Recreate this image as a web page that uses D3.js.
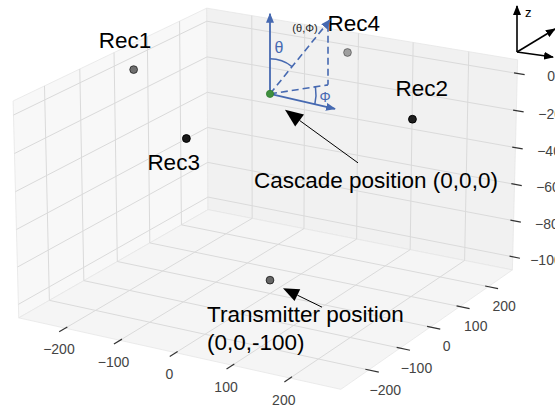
<!DOCTYPE html>
<html><head><meta charset="utf-8">
<script src="https://cdn.jsdelivr.net/npm/d3@7"></script>
<style>
body{margin:0;background:#fff}
svg{display:block}
text{font-family:"Liberation Sans",Arial,sans-serif}
</style>
</head><body>
<svg id="c" width="555" height="405"></svg>
<script>
// ---------------- data ----------------
const xTicks=[-200,-100,0,100,200];
const yTicks=[-200,-100,0,100,200];
const zTicks=[-100,-80,-60,-40,-20,0];
const xLim=[-275,275], yLim=[-275,275], zLim=[-105,5];
const recNames=["Rec1","Rec2","Rec3","Rec4"];
const recX=[-250,250,0,0];
const recY=[0,0,-250,250];
const recZ=[0,0,0,0];
const cascadePos=[0,0,0];
const cascadeLabel="Cascade position (0,0,0)";
const transPos=[0,0,-100];
const transLabel=["Transmitter position","(0,0,-100)"];

// ---------------- projection ----------------
const W=555,H=405;
const pad=l=>{const d=(l[1]-l[0])/48;return [l[0]-d,l[1]+d];};
const KZ=0.62;
const sx=d3.scaleLinear().domain(pad(xLim)).range([-1,1]);
const sy=d3.scaleLinear().domain(pad(yLim)).range([-1,1]);
const sz=d3.scaleLinear().domain(pad(zLim)).range([-KZ,KZ]);
const AZ=-60*Math.PI/180, EL=19.5*Math.PI/180, DIST=19, S=182.6, CX=270, CY=187.9;
const Rv=[-Math.sin(AZ),Math.cos(AZ),0];
const Uv=[-Math.sin(EL)*Math.cos(AZ),-Math.sin(EL)*Math.sin(AZ),Math.cos(EL)];
const Wv=[Math.cos(EL)*Math.cos(AZ),Math.cos(EL)*Math.sin(AZ),Math.sin(EL)];
const dot=(v,X,Y,Z)=>v[0]*X+v[1]*Y+v[2]*Z;
function projN(X,Y,Z){const f=DIST/(DIST-dot(Wv,X,Y,Z));return [CX+S*dot(Rv,X,Y,Z)*f, CY-S*dot(Uv,X,Y,Z)*f];}
const P=(x,y,z)=>projN(sx(x),sy(y),sz(z));
const depth=(x,y,z)=>dot(Wv,sx(x),sy(y),sz(z));

const svg=d3.select("#c");
const line=d3.line();
const [x0,x1]=sx.domain(),[y0,y1]=sy.domain(),[z0,z1]=sz.domain();

// panes
const panes=[
 {c:"#f8f8f8",pts:[[x0,y0,z0],[x0,y1,z0],[x0,y1,z1],[x0,y0,z1]]},
 {c:"#f1f1f1",pts:[[x0,y1,z0],[x1,y1,z0],[x1,y1,z1],[x0,y1,z1]]},
 {c:"#f5f5f5",pts:[[x0,y0,z0],[x1,y0,z0],[x1,y1,z0],[x0,y1,z0]]}
];
svg.append("g").selectAll("path").data(panes).join("path")
 .attr("d",d=>line(d.pts.map(p=>P(...p)))+"Z")
 .attr("fill",d=>d.c).attr("stroke","#e6e6e6").attr("stroke-width",0.8);

// grid
const grid=svg.append("g").attr("fill","none").attr("stroke","#dadada").attr("stroke-width",1);
xTicks.forEach(t=>grid.append("path").attr("d",line([P(t,y0,z0),P(t,y1,z0),P(t,y1,z1)])));
yTicks.forEach(t=>grid.append("path").attr("d",line([P(x1,t,z0),P(x0,t,z0),P(x0,t,z1)])));
zTicks.forEach(t=>grid.append("path").attr("d",line([P(x0,y0,t),P(x0,y1,t),P(x1,y1,t)])));

// ticks + labels
const fmt=d3.format("d");
const ax=svg.append("g");
const tickStyle=s=>s.attr("stroke","#333").attr("stroke-width",1.2);
const lab=(p,t)=>ax.append("text").attr("x",p[0]).attr("y",p[1]).attr("text-anchor","middle")
  .attr("dominant-baseline","central").attr("font-size",14).attr("fill","#444").text(t);
xTicks.forEach(t=>{
  const X=sx(t);
  tickStyle(ax.append("path").attr("d",line([projN(X,-1+0.02,-KZ),projN(X,-1-0.06,-KZ)])));
  lab(projN(X,-1.066,-KZ-0.099),fmt(t));
});
yTicks.forEach(t=>{
  const Y=sy(t);
  tickStyle(ax.append("path").attr("d",line([projN(1-0.02,Y,-KZ),projN(1+0.06,Y,-KZ)])));
  lab(projN(1.10,Y,-KZ-0.093),fmt(t));
});
zTicks.forEach(t=>{
  const Z=sz(t);
  tickStyle(ax.append("path").attr("d",line([projN(1-0.02,1,Z),projN(1+0.045,1,Z)])));
  lab(projN(1.184,1.048,Z),fmt(t));
});

// points with depth shading
const pts=recNames.map((n,i)=>({n,x:recX[i],y:recY[i],z:recZ[i]}));
pts.push({n:"T",x:transPos[0],y:transPos[1],z:transPos[2]});
pts.forEach(d=>d.d=depth(d.x,d.y,d.z));
const dmin=d3.min(pts,d=>d.d),dmax=d3.max(pts,d=>d.d);
pts.forEach(d=>{const t=(dmax-d.d)/(dmax-dmin);d.a=1-0.62*t*t;});
const pg=svg.append("g");
pts.slice().sort((a,b)=>a.d-b.d).forEach(d=>{
  const p=P(d.x,d.y,d.z);
  pg.append("circle").attr("cx",p[0]).attr("cy",p[1]).attr("r",3.9)
    .attr("fill","#000").attr("fill-opacity",d.a*0.9).attr("stroke","#000").attr("stroke-opacity",d.a).attr("stroke-width",1);
});
const Cp=P(...cascadePos), Tp=P(...transPos);

// labels
const tg=svg.append("g").attr("font-size",22.5).attr("fill","#000");
const recOff={Rec1:[-35,-22],Rec2:[-17,-23],Rec3:[-39,31],Rec4:[-20,-21]};
pts.filter(d=>d.n!=="T").forEach(d=>{
  const p=P(d.x,d.y,d.z),o=recOff[d.n];
  tg.append("text").attr("x",p[0]+o[0]).attr("y",p[1]+o[1]).text(d.n);
});
tg.append("text").attr("x",Cp[0]-16).attr("y",Cp[1]+94).text(cascadeLabel);
transLabel.forEach((t,i)=>tg.append("text").attr("x",Tp[0]-63).attr("y",Tp[1]+42+i*27.5).text(t));

// ---------------- inset: angle diagram ----------------
const blue="#4669b1";
const defs=svg.append("defs");
defs.append("marker").attr("id","ab").attr("viewBox","0 0 10 8").attr("refX",9).attr("refY",4)
 .attr("markerWidth",10).attr("markerHeight",8).attr("markerUnits","userSpaceOnUse").attr("orient","auto")
 .append("path").attr("d","M0,0L10,4L0,8Z").attr("fill",blue);
const ig=svg.append("g").attr("fill","none").attr("stroke",blue);
const C=Cp;
const rel=(dx,dy)=>[C[0]+dx,C[1]+dy];
const vUp=[0,-80], vRight=[65,15], vDir=[60,-74], vFoot=[58,-9];
ig.append("path").attr("d",line([C,rel(...vUp)])).attr("stroke-width",1.8).attr("marker-end","url(#ab)");
ig.append("path").attr("d",line([C,rel(...vRight)])).attr("stroke-width",1.8).attr("marker-end","url(#ab)");
ig.append("path").attr("d",line([C,rel(...vDir)])).attr("stroke-width",1.6).attr("stroke-dasharray","7,4").attr("marker-end","url(#ab)");
ig.append("path").attr("d",line([rel(vFoot[0],vDir[1]+5),rel(...vFoot)])).attr("stroke-width",1.6).attr("stroke-dasharray","7,4");
ig.append("path").attr("d",line([C,rel(...vFoot)])).attr("stroke-width",1.6).attr("stroke-dasharray","7,4");
const ang=v=>Math.atan2(v[0],-v[1]);
function arc(r,a0,a1){
  const p0=[C[0]+r*Math.sin(a0),C[1]-r*Math.cos(a0)],p1=[C[0]+r*Math.sin(a1),C[1]-r*Math.cos(a1)];
  return `M${p0}A${r},${r} 0 0 1 ${p1}`;
}
ig.append("path").attr("d",arc(35,ang(vUp),ang(vDir))).attr("stroke-width",1.5);
ig.append("path").attr("d",arc(46,ang(vFoot),ang(vRight))).attr("stroke-width",1.5);
const it=svg.append("g").attr("text-anchor","middle").attr("dominant-baseline","central");
it.append("text").attr("x",C[0]+9).attr("y",C[1]-46).attr("font-size",16).attr("fill",blue).text("θ");
it.append("text").attr("x",C[0]+55).attr("y",C[1]+3).attr("font-size",14).attr("fill",blue).text("Φ");
it.append("text").attr("x",C[0]+35).attr("y",C[1]-66).attr("font-size",11).attr("fill","#222").text("(θ,Φ)");
// green cascade point on top
svg.append("circle").attr("cx",C[0]).attr("cy",C[1]).attr("r",3.6).attr("fill","#3f8f3f").attr("stroke","#2f7d2f").attr("stroke-width",0.8);

// ---------------- annotation arrows ----------------
const ag=svg.append("g");
function annArrow(tail,tip,hl,hw){
  const dx=tip[0]-tail[0],dy=tip[1]-tail[1],L=Math.hypot(dx,dy),ux=dx/L,uy=dy/L;
  const bx=tip[0]-ux*hl,by=tip[1]-uy*hl;
  ag.append("line").attr("x1",tail[0]).attr("y1",tail[1]).attr("x2",bx).attr("y2",by).attr("stroke","#000").attr("stroke-width",1);
  ag.append("path").attr("d",`M${tip}L${bx-uy*hw},${by+ux*hw}L${bx+uy*hw},${by-ux*hw}Z`).attr("fill","#000");
}
annArrow([C[0]+88,C[1]+69],[C[0]+15,C[1]+16],18,7.5);
annArrow([Tp[0]+52,Tp[1]+27],[Tp[0]+13,Tp[1]+8],16,6.5);

// ---------------- orientation icon (top right) ----------------
const og=svg.append("g");
defs.append("marker").attr("id","ak").attr("viewBox","0 0 10 8").attr("refX",9).attr("refY",4)
 .attr("markerWidth",10).attr("markerHeight",8).attr("markerUnits","userSpaceOnUse").attr("orient","auto")
 .append("path").attr("d","M0,0L10,4L0,8Z").attr("fill","#000");
const O=[W-38,52];
[[0,-46],[38,-23],[36,5]].forEach(v=>og.append("path").attr("d",line([O,[O[0]+v[0],O[1]+v[1]]]))
  .attr("stroke","#000").attr("stroke-width",1.6).attr("marker-end","url(#ak)"));
og.append("text").attr("x",O[0]+8).attr("y",O[1]-35).attr("font-size",13).text("z");
og.append("text").attr("x",O[0]+38).attr("y",O[1]-22).attr("font-size",13).text("y");
og.append("text").attr("x",O[0]+38).attr("y",O[1]+15).attr("font-size",13).text("x");
</script>
</body></html>
